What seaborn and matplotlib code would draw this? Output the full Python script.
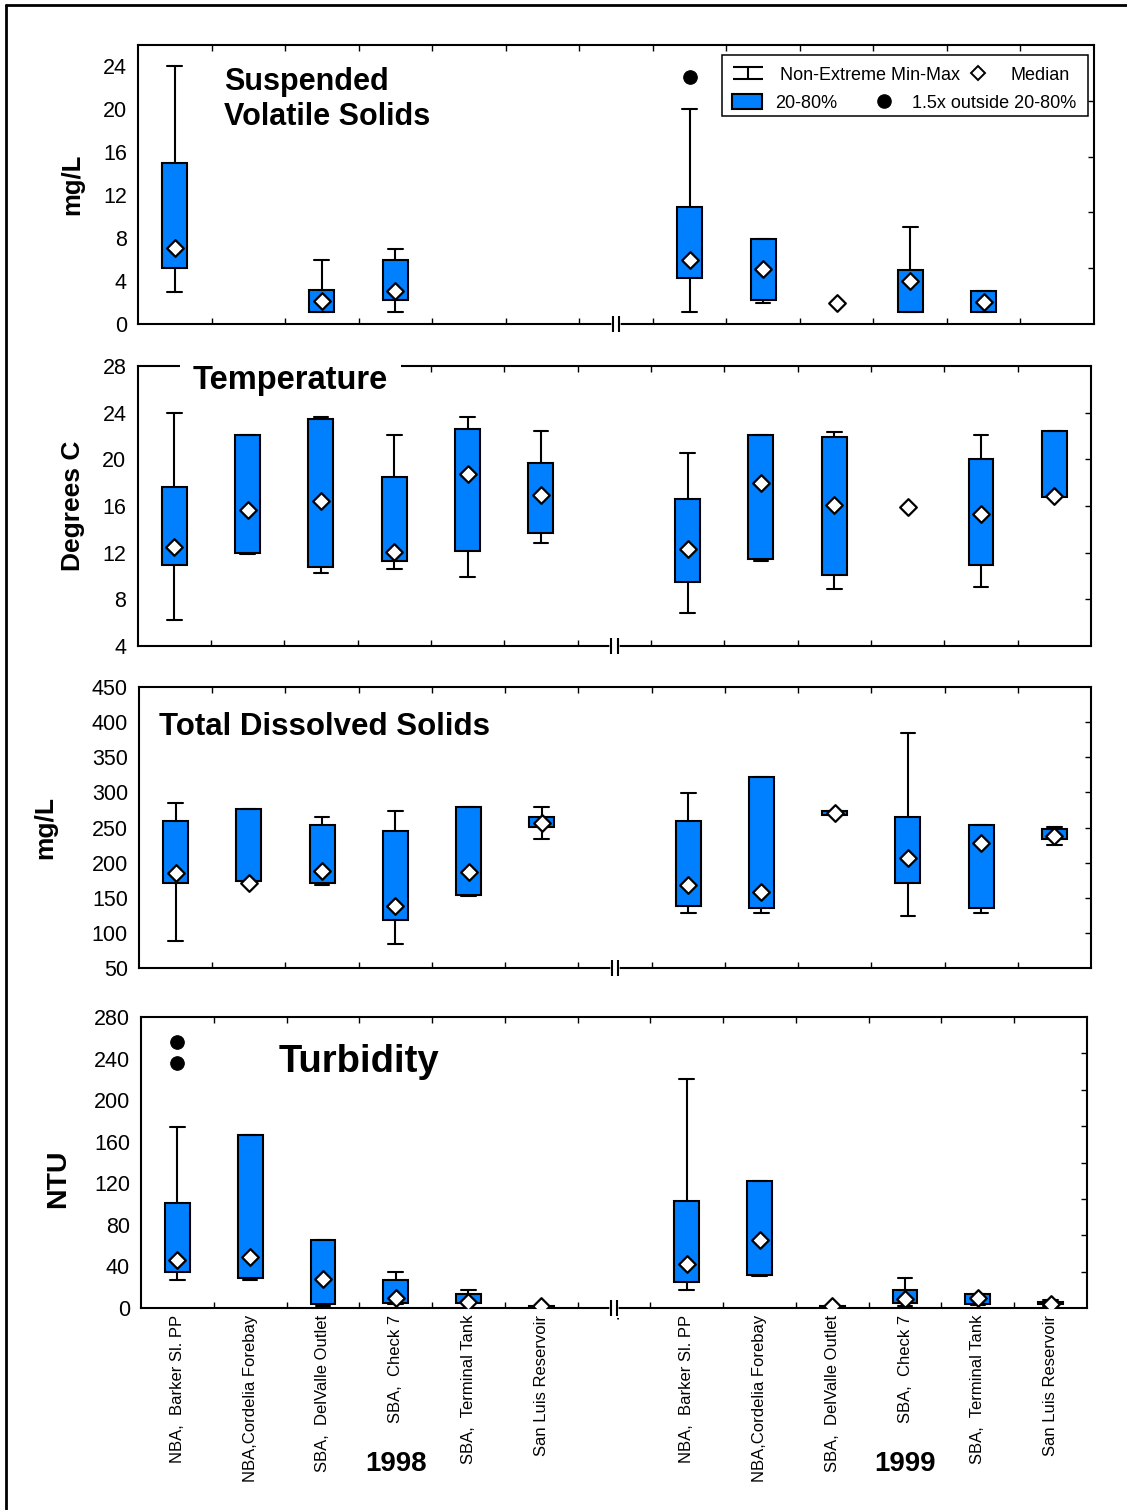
import numpy as np
import pandas as pd
import matplotlib
matplotlib.use("Agg")
import matplotlib.pyplot as plt
import seaborn as sns
from matplotlib.path import Path
from matplotlib.patches import Patch, Rectangle
from matplotlib.lines import Line2D
from matplotlib.transforms import blended_transform_factory

nan = np.nan

# ---------------- data ----------------
sites = ["NBA,  Barker Sl. PP", "NBA,Cordelia Forebay", "SBA,  DelValle Outlet",
         "SBA,  Check 7", "SBA,  Terminal Tank", "San Luis Reservoir"]
years = ["1998", "1999"]
gap_label = "."

# order: 6 sites of 1998 followed by 6 sites of 1999
# Suspended Volatile Solids (mg/L)
svs_min = [2.95, nan, 1.1, 1.1, nan, nan, 1.1, 2.0, nan, 1.1, 1.1, nan]
svs_q20 = [5.2, nan, 1.1, 2.2, nan, nan, 4.25, 2.2, nan, 1.1, 1.1, nan]
svs_med = [7.05, nan, 2.1, 3.1, nan, nan, 6.0, 5.1, 2.0, 4.0, 2.05, nan]
svs_q80 = [15.05, nan, 3.15, 5.95, nan, nan, 10.9, 7.95, nan, 5.0, 3.1, nan]
svs_max = [24.0, nan, 5.95, 7.0, nan, nan, 20.05, 7.95, nan, 9.05, 3.1, nan]
svs_out_idx = [6]
svs_out_val = [23.05]

# Temperature (Degrees C)
tmp_min = [6.2, 11.85, 10.3, 10.6, 9.95, 12.85, 6.85, 11.3, 8.9, nan, 9.1, 16.8]
tmp_q20 = [10.95, 12.0, 10.8, 11.3, 12.15, 13.7, 9.45, 11.45, 10.1, nan, 10.95, 16.8]
tmp_med = [12.5, 15.7, 16.45, 12.05, 18.75, 16.95, 12.3, 18.0, 16.1, 15.9, 15.35, 16.9]
tmp_q80 = [17.65, 22.1, 23.5, 18.5, 22.6, 19.65, 16.6, 22.1, 21.9, nan, 20.05, 22.45]
tmp_max = [24.0, 22.1, 23.65, 22.1, 23.65, 22.45, 20.55, 22.1, 22.3, nan, 22.1, 22.45]
tmp_out_idx = []
tmp_out_val = []

# Total Dissolved Solids (mg/L)
tds_min = [89, 171.7, 168.8, 83.6, 151.8, 234, 129, 129, 268.2, 123.4, 129, 225.6]
tds_q20 = [171.7, 174.5, 171.7, 117.7, 154.6, 251.2, 137.6, 134.7, 268.2, 171.7, 134.7, 234.1]
tds_med = [185.9, 171.7, 188.7, 138.5, 186.8, 256.9, 167.9, 157.9, 270.1, 206.2, 228.5, 238.4]
tds_q80 = [259.2, 276.3, 254.0, 245.0, 279.6, 265.4, 259.2, 322.2, 273.9, 265.4, 254.0, 248.3]
tds_max = [285.3, 276.3, 265.4, 273.9, 279.6, 279.6, 299.5, 322.2, 273.9, 384.7, 254.0, 251.2]
tds_out_idx = []
tds_out_val = []

# Turbidity (NTU)
ntu_min = [26.6, 26.6, 2.2, 3.5, 4.8, 0.5, 17.0, 30.4, 0.5, 2.2, 2.6, 2.2]
ntu_q20 = [34.2, 28.8, 3.5, 4.8, 4.8, 0.5, 24.6, 32.0, 0.5, 4.8, 3.5, 3.5]
ntu_med = [45.8, 49.0, 27.8, 9.3, 6.1, 1.5, 42.2, 65.6, 1.5, 8.6, 9.6, 3.8]
ntu_q80 = [101.4, 166.4, 65.0, 26.6, 13.1, 2.0, 103.4, 122.6, 1.8, 17.0, 13.1, 5.4]
ntu_max = [174.4, 166.4, 65.0, 34.2, 17.0, 2.0, 220.2, 122.6, 1.8, 28.5, 13.1, 7.4]
ntu_out_idx = [0, 0]
ntu_out_val = [256.0, 235.8]

# ---------------- style ----------------
sns.set_style("white")
plt.rcParams["font.family"] = ["Liberation Sans", "DejaVu Sans"]
plt.rcParams["text.color"] = "black"
plt.rcParams["axes.labelcolor"] = "black"
plt.rcParams["xtick.color"] = "black"
plt.rcParams["ytick.color"] = "black"
plt.rcParams["axes.edgecolor"] = "black"
BLUE = "#0080ff"
W, H = 1127, 1510

fig = plt.figure(figsize=(W / 100, H / 100), dpi=100)


def rect(left, right, top, bottom):
    return [left / W, 1 - bottom / H, (right - left) / W, (bottom - top) / H]


n = len(sites)
gap = n
positions = list(range(n)) + list(range(n + 1, 2 * n + 1))
xlabels = sites + [gap_label] + sites


def draw_panel(ax, mins, q20, med, q80, maxs, out_idx, out_val):
    stats, pos = [], []
    for i in range(2 * n):
        if np.isnan(q20[i]):
            continue
        stats.append(dict(med=med[i], q1=q20[i], q3=q80[i],
                          whislo=mins[i], whishi=maxs[i], fliers=[]))
        pos.append(positions[i])
    ax.bxp(stats, positions=pos, widths=0.34, capwidths=0.2, patch_artist=True,
           showfliers=False, manage_ticks=False,
           boxprops=dict(facecolor=BLUE, edgecolor="black", linewidth=1.5),
           whiskerprops=dict(color="black", linewidth=1.5),
           capprops=dict(color="black", linewidth=1.5),
           medianprops=dict(linewidth=0))
    dfm = pd.DataFrame({"pos": positions, "med": med}).dropna()
    sns.scatterplot(data=dfm, x="pos", y="med", marker="D", s=72, color="white",
                    edgecolor="black", linewidth=1.6, zorder=6, legend=False, ax=ax)
    if out_idx:
        dfo = pd.DataFrame({"pos": [positions[i] for i in out_idx], "val": out_val})
        sns.scatterplot(data=dfo, x="pos", y="val", marker="o", s=95, color="black",
                        edgecolor="black", zorder=6, legend=False, ax=ax)
    ax.set_xlabel("")


def style_axes(ax, ylim, yticks, rticks, ylabel, lab_x, lab_y, lab_size, bottom_labels):
    ax.set_xlim(-0.5, 2 * n + 0.5)
    ax.set_ylim(*ylim)
    ax.set_xticks(range(2 * n + 1))
    if bottom_labels:
        ax.set_xticklabels(xlabels, rotation=90, fontsize=12)
    else:
        ax.set_xticklabels([])
    ax.set_xticks(np.arange(0.5, 2 * n, 1.0), minor=True)
    ax.tick_params(axis="x", which="major", length=0, pad=5)
    ax.tick_params(axis="x", which="minor", direction="in", length=4, width=1,
                   top=True, bottom=True)
    ax.yaxis.remove_overlapping_locs = False
    ax.set_yticks(yticks)
    ax.set_yticks(rticks, minor=True)
    ax.set_yticklabels([f"{v:g}" for v in yticks])
    ax.tick_params(axis="y", which="major", length=0, pad=8, labelsize=15.5, left=False)
    ax.tick_params(axis="y", which="minor", left=False, right=True, direction="in",
                   length=4, width=1)
    for s in ax.spines.values():
        s.set_linewidth(1.5)
        s.set_color("black")
        s.set_visible(True)
    ax.set_ylabel(ylabel, fontsize=lab_size, fontweight="bold")
    ax.yaxis.set_label_coords(lab_x, lab_y)
    # axis break mark at the empty slot
    tr = blended_transform_factory(ax.transData, ax.transAxes)
    ax.plot([gap - 0.045, gap + 0.045], [0, 0], color="white", lw=2.6,
            transform=tr, clip_on=False, zorder=8)
    ax.plot([gap - 0.045, gap + 0.045], [0, 0], linestyle="none", marker="|",
            markersize=12, markeredgewidth=1.5, color="black",
            transform=tr, clip_on=False, zorder=9)


ax1 = fig.add_axes(rect(138, 1094, 45, 324))
ax2 = fig.add_axes(rect(137.5, 1091, 366, 646))
ax3 = fig.add_axes(rect(139, 1091, 687, 968))
ax4 = fig.add_axes(rect(141, 1087, 1017, 1308))

draw_panel(ax1, svs_min, svs_q20, svs_med, svs_q80, svs_max, svs_out_idx, svs_out_val)
draw_panel(ax2, tmp_min, tmp_q20, tmp_med, tmp_q80, tmp_max, tmp_out_idx, tmp_out_val)
draw_panel(ax3, tds_min, tds_q20, tds_med, tds_q80, tds_max, tds_out_idx, tds_out_val)
draw_panel(ax4, ntu_min, ntu_q20, ntu_med, ntu_q80, ntu_max, ntu_out_idx, ntu_out_val)

style_axes(ax1, (0, 26), np.arange(0, 25, 4), np.linspace(0, 26, 6)[1:-1],
           "mg/L", -0.056, 0.5, 18.5, False)
style_axes(ax2, (4, 28), np.arange(4, 29, 4), np.arange(8, 28, 4),
           "Degrees C", -0.055, 0.5, 19, False)
style_axes(ax3, (50, 450), np.arange(50, 451, 50), np.arange(100, 450, 50),
           "mg/L", -0.086, 0.5, 19, False)
style_axes(ax4, (0, 280), np.arange(0, 281, 40), np.linspace(0, 280, 9)[1:-1],
           "NTU", -0.074, 0.443, 20.5, True)

# panel titles
ax1.text(0.090, 0.713, "Suspended\nVolatile Solids", transform=ax1.transAxes,
         fontsize=22, fontweight="bold", ha="left", va="baseline", linespacing=1.2)
ax2.text(0.058, 0.918, "Temperature", transform=ax2.transAxes, fontsize=23.5,
         fontweight="bold", ha="left", va="baseline", zorder=10,
         bbox=dict(boxstyle="square,pad=0.4", facecolor="white", edgecolor="none"))
ax3.text(0.021, 0.829, "Total Dissolved Solids", transform=ax3.transAxes,
         fontsize=22.5, fontweight="bold", ha="left", va="baseline")
ax4.text(0.145, 0.811, "Turbidity", transform=ax4.transAxes, fontsize=27.5,
         fontweight="bold", ha="left", va="baseline")

# year labels under each group
trf = blended_transform_factory(ax4.transData, fig.transFigure)
for k, yr in enumerate(years):
    grp = positions[k * n:(k + 1) * n]
    ax4.text(np.mean(grp) + 0.5, 1 - 1464 / H, yr, transform=trf, fontsize=20,
             fontweight="bold", ha="center", va="center")

# legend (two rows in one frame)
whisk_path = Path([(-0.5, 0.2), (0.5, 0.2), (0, 0.2), (0, -0.2), (-0.5, -0.2), (0.5, -0.2)],
                  [Path.MOVETO, Path.LINETO, Path.MOVETO, Path.LINETO, Path.MOVETO, Path.LINETO])
h_whisk = Line2D([], [], linestyle="none", marker=whisk_path, markersize=21.6,
                 markeredgecolor="black", markerfacecolor="none", markeredgewidth=1.5)
h_med = Line2D([], [], linestyle="none", marker="D", markersize=7.5,
               markerfacecolor="white", markeredgecolor="black", markeredgewidth=1.4)
h_box = Patch(facecolor=BLUE, edgecolor="black", linewidth=1.5)
h_out = Line2D([], [], linestyle="none", marker="o", markersize=9.5, color="black")

leg1 = ax1.legend([h_whisk, h_med], ["Non-Extreme Min-Max", "Median"], ncol=2,
                  loc="center left", bbox_to_anchor=(0.619, 0.892), frameon=False,
                  fontsize=13, handlelength=2.0, handletextpad=0.78, columnspacing=0.0,
                  borderpad=0, borderaxespad=0)
ax1.add_artist(leg1)
leg2 = ax1.legend([h_box, h_out], ["20-80%", "1.5x outside 20-80%"], ncol=2,
                  loc="center left", bbox_to_anchor=(0.621, 0.792), frameon=False,
                  fontsize=13, handlelength=1.7, handletextpad=0.7, columnspacing=1.75,
                  handleheight=0.85, borderpad=0, borderaxespad=0)
ax1.add_patch(Rectangle((0.611, 0.746), 0.383, 0.218, transform=ax1.transAxes,
                        fill=False, edgecolor="black", linewidth=1.1, clip_on=False, zorder=7))

# outer frame (left and top edges)
fig.add_artist(Line2D([6 / W, 6 / W], [0, 1 - 5 / H], transform=fig.transFigure,
                      color="black", linewidth=2.0))
fig.add_artist(Line2D([6 / W, 1], [1 - 5 / H, 1 - 5 / H], transform=fig.transFigure,
                      color="black", linewidth=2.0))

fig.savefig("out.png", dpi=100)
